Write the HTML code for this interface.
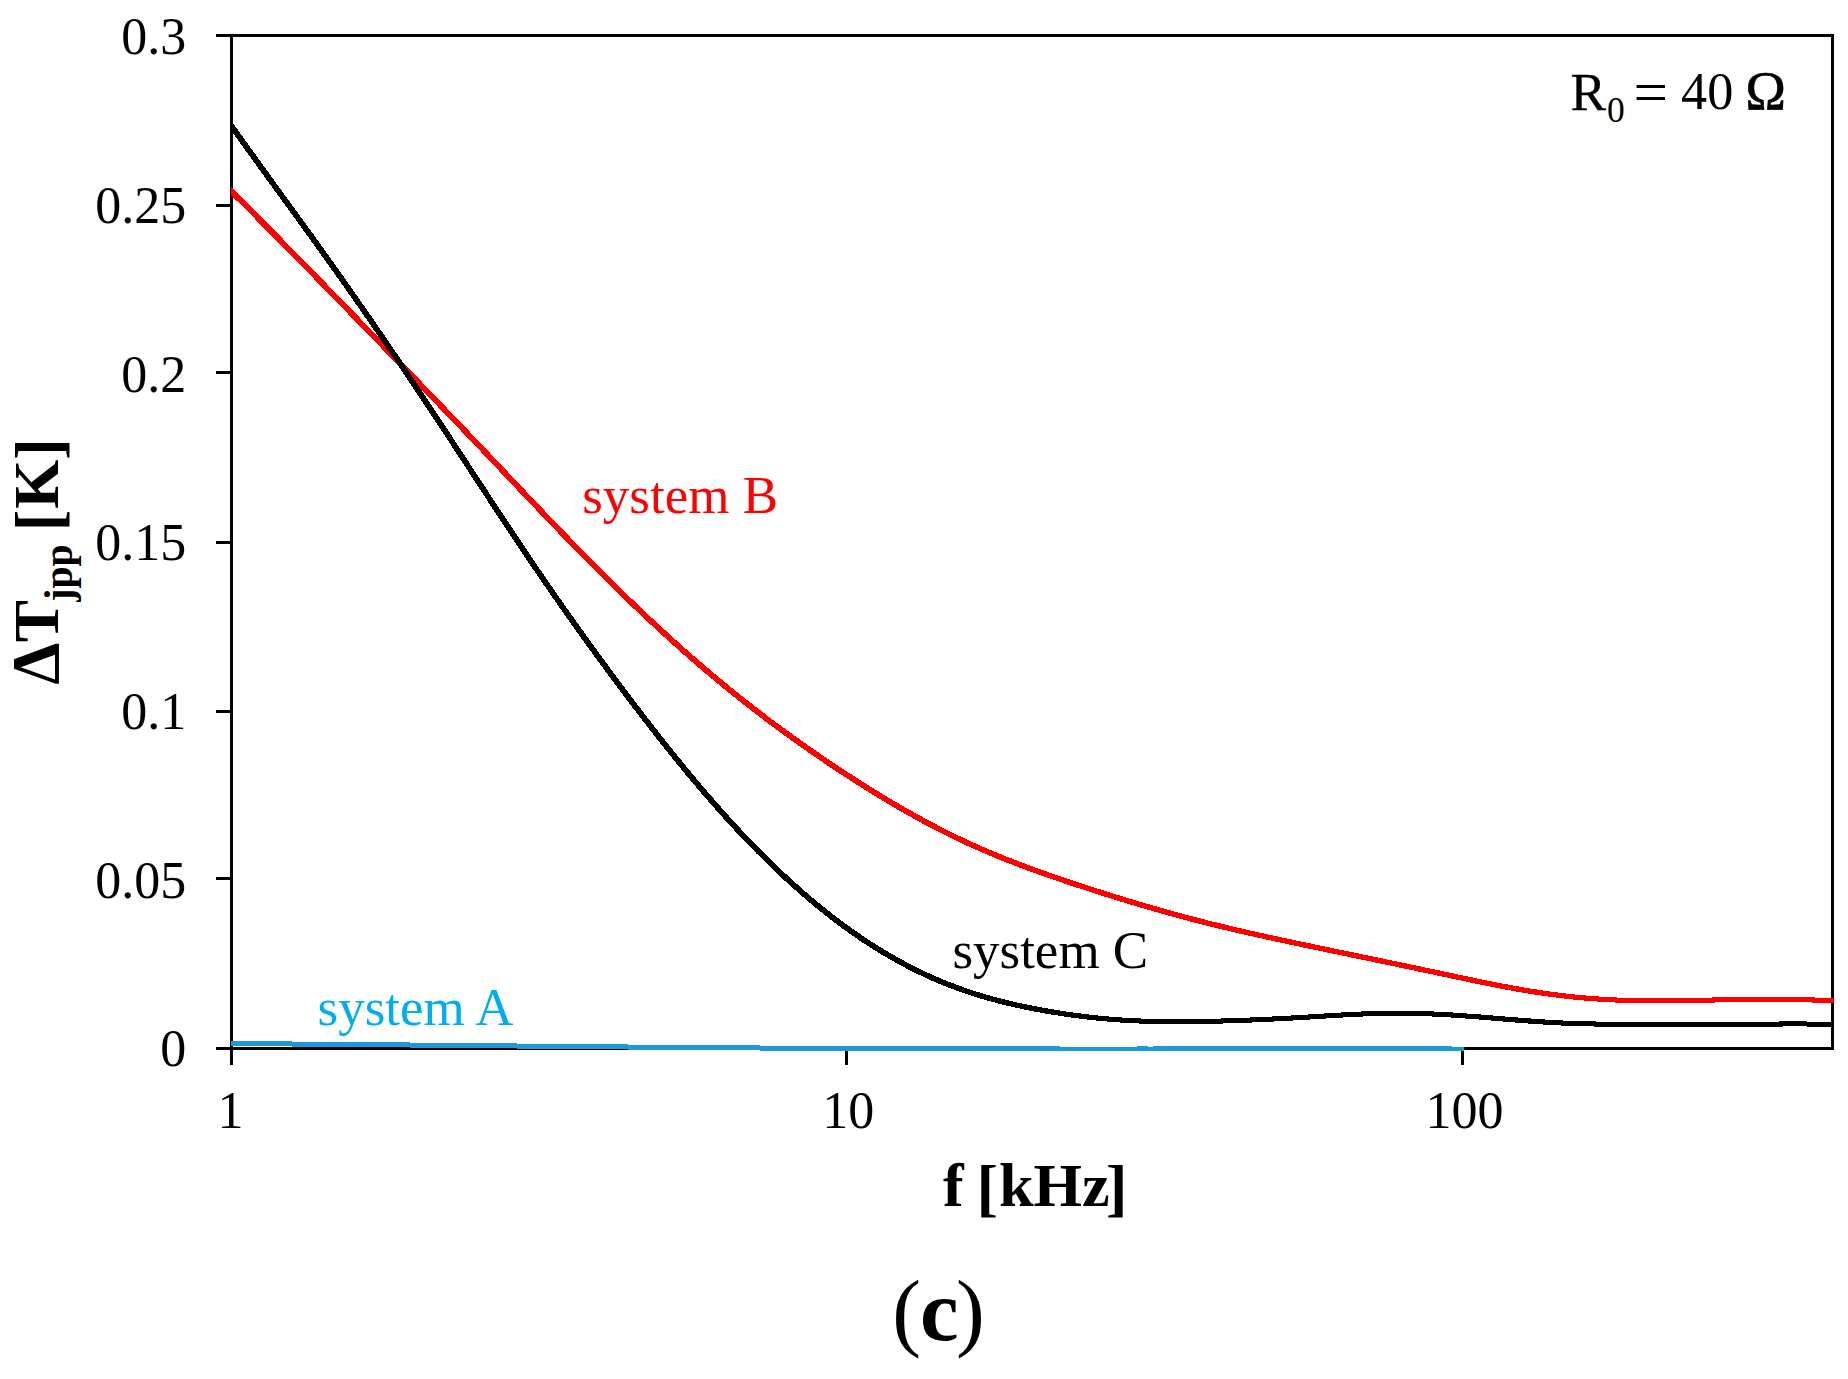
<!DOCTYPE html>
<html lang="en"><head><meta charset="utf-8"><title>Figure (c)</title>
<style>
html,body{margin:0;padding:0;background:#fff;}
body{width:1848px;height:1379px;overflow:hidden;}
svg{display:block;}
text{white-space:pre;}
</style></head><body>
<svg width="1848" height="1379" viewBox="0 0 1848 1379">
<rect x="0" y="0" width="1848" height="1379" fill="#fff"/>
<g fill="#000" shape-rendering="crispEdges">
<rect x="216" y="34" width="1618" height="3"/>
<rect x="216" y="1047" width="1618" height="3"/>
<rect x="230" y="34" width="3" height="1031"/>
<rect x="1831" y="35" width="3" height="1015"/>
<rect x="216" y="204" width="15" height="3"/>
<rect x="216" y="371" width="15" height="3"/>
<rect x="216" y="541" width="15" height="3"/>
<rect x="216" y="710" width="15" height="3"/>
<rect x="216" y="877" width="15" height="3"/>
<rect x="845" y="1047" width="3" height="18"/>
<rect x="1461" y="1047" width="3" height="18"/>
</g>
<clipPath id="plot"><rect x="231" y="30" width="1603" height="1025"/></clipPath>
<g clip-path="url(#plot)" shape-rendering="crispEdges">
<g fill="#1c9ad8"><rect x="231" y="1041" width="61" height="5"/><rect x="292" y="1042" width="118" height="5"/><rect x="410" y="1043" width="107" height="5"/><rect x="517" y="1044" width="111" height="5"/><rect x="628" y="1045" width="132" height="5"/><rect x="760" y="1046" width="300" height="5"/><rect x="1060" y="1047" width="77" height="4"/><rect x="1137" y="1046" width="11" height="5"/><rect x="1148" y="1047" width="5" height="4"/><rect x="1153" y="1046" width="299" height="5"/><rect x="1452" y="1047" width="12" height="4"/></g>
<path d="M216.95 181.18 L228.95 193.03 L232.95 196.99 L236.95 200.95 L240.94 204.93 L244.94 208.92 L248.94 212.91 L252.94 216.92 L256.93 220.93 L260.93 224.96 L264.93 228.99 L268.93 233.03 L272.93 237.08 L276.92 241.13 L280.92 245.19 L284.92 249.26 L288.92 253.34 L292.92 257.42 L296.92 261.50 L300.92 265.59 L304.91 269.69 L308.91 273.79 L312.91 277.89 L316.91 282.00 L320.91 286.10 L324.91 290.22 L328.91 294.33 L332.91 298.45 L336.91 302.57 L340.91 306.68 L344.91 310.80 L348.91 314.92 L352.91 319.04 L356.91 323.16 L360.91 327.29 L364.91 331.41 L368.91 335.53 L372.91 339.65 L376.91 343.78 L380.91 347.90 L384.91 352.03 L388.91 356.15 L392.91 360.28 L396.91 364.41 L400.91 368.55 L404.91 372.68 L408.90 376.82 L412.90 380.96 L416.90 385.10 L420.90 389.25 L424.90 393.40 L428.90 397.55 L432.90 401.70 L436.90 405.86 L440.90 410.02 L444.90 414.19 L448.90 418.36 L452.90 422.53 L456.89 426.71 L460.89 430.89 L464.89 435.08 L468.89 439.27 L472.89 443.47 L476.89 447.67 L480.89 451.88 L484.89 456.09 L488.89 460.31 L492.88 464.53 L496.88 468.75 L500.88 472.98 L504.88 477.20 L508.88 481.43 L512.88 485.65 L516.89 489.87 L520.89 494.09 L524.89 498.31 L528.89 502.52 L532.89 506.73 L536.89 510.93 L540.89 515.13 L544.89 519.32 L548.90 523.50 L552.90 527.67 L556.90 531.83 L560.90 535.98 L564.91 540.12 L568.91 544.25 L572.91 548.36 L576.92 552.46 L580.92 556.55 L584.92 560.62 L588.93 564.68 L592.93 568.71 L596.94 572.73 L600.94 576.73 L604.95 580.72 L608.95 584.68 L612.96 588.62 L616.96 592.54 L620.97 596.44 L624.98 600.32 L628.98 604.18 L632.99 608.02 L636.99 611.84 L641.00 615.64 L645.01 619.41 L649.01 623.17 L653.02 626.90 L657.02 630.60 L661.03 634.29 L665.04 637.95 L669.05 641.59 L673.05 645.20 L677.06 648.79 L681.07 652.36 L685.08 655.90 L689.08 659.41 L693.09 662.91 L697.10 666.37 L701.11 669.81 L705.12 673.23 L709.13 676.62 L713.13 679.98 L717.14 683.32 L721.15 686.63 L725.16 689.91 L729.17 693.16 L733.18 696.39 L737.19 699.60 L741.20 702.78 L745.21 705.93 L749.22 709.06 L753.23 712.16 L757.24 715.24 L761.25 718.29 L765.25 721.32 L769.26 724.33 L773.27 727.31 L777.28 730.28 L781.29 733.21 L785.30 736.13 L789.31 739.02 L793.32 741.90 L797.33 744.75 L801.34 747.58 L805.34 750.39 L809.35 753.17 L813.36 755.94 L817.37 758.69 L821.38 761.42 L825.39 764.13 L829.39 766.82 L833.40 769.49 L837.41 772.14 L841.42 774.78 L845.43 777.40 L849.44 779.99 L853.44 782.57 L857.45 785.13 L861.46 787.67 L865.47 790.19 L869.48 792.69 L873.49 795.17 L877.50 797.62 L881.51 800.06 L885.53 802.47 L889.54 804.85 L893.55 807.22 L897.56 809.56 L901.57 811.87 L905.59 814.16 L909.60 816.43 L913.61 818.67 L917.63 820.88 L921.64 823.06 L925.65 825.22 L929.67 827.35 L933.68 829.46 L937.70 831.53 L941.72 833.58 L945.73 835.59 L949.75 837.58 L953.77 839.53 L957.78 841.46 L961.80 843.35 L965.82 845.22 L969.83 847.05 L973.85 848.85 L977.87 850.63 L981.88 852.37 L985.90 854.09 L989.91 855.79 L993.93 857.45 L997.94 859.10 L1001.96 860.72 L1005.97 862.31 L1009.98 863.89 L1014.00 865.44 L1018.01 866.98 L1022.02 868.49 L1026.03 869.98 L1030.04 871.46 L1034.05 872.92 L1038.06 874.36 L1042.07 875.79 L1046.08 877.20 L1050.09 878.59 L1054.10 879.98 L1058.11 881.35 L1062.11 882.71 L1066.12 884.06 L1070.13 885.40 L1074.13 886.73 L1078.14 888.05 L1082.14 889.36 L1086.15 890.66 L1090.15 891.96 L1094.16 893.25 L1098.16 894.53 L1102.17 895.81 L1106.17 897.07 L1110.18 898.33 L1114.18 899.57 L1118.19 900.81 L1122.19 902.04 L1126.20 903.27 L1130.21 904.48 L1134.21 905.68 L1138.22 906.87 L1142.23 908.06 L1146.23 909.23 L1150.24 910.39 L1154.24 911.55 L1158.25 912.69 L1162.26 913.82 L1166.27 914.95 L1170.27 916.06 L1174.28 917.16 L1178.29 918.25 L1182.29 919.33 L1186.30 920.40 L1190.31 921.46 L1194.32 922.50 L1198.32 923.53 L1202.33 924.56 L1206.34 925.57 L1210.35 926.57 L1214.35 927.55 L1218.36 928.53 L1222.37 929.50 L1226.37 930.46 L1230.38 931.41 L1234.38 932.35 L1238.39 933.28 L1242.40 934.20 L1246.40 935.11 L1250.41 936.02 L1254.41 936.92 L1258.41 937.82 L1262.42 938.70 L1266.42 939.58 L1270.43 940.46 L1274.43 941.33 L1278.43 942.19 L1282.44 943.05 L1286.44 943.91 L1290.44 944.76 L1294.44 945.61 L1298.45 946.46 L1302.45 947.30 L1306.45 948.14 L1310.45 948.98 L1314.45 949.82 L1318.45 950.65 L1322.45 951.49 L1326.45 952.32 L1330.45 953.16 L1334.45 953.99 L1338.45 954.82 L1342.45 955.65 L1346.45 956.48 L1350.45 957.32 L1354.45 958.15 L1358.45 958.98 L1362.45 959.81 L1366.45 960.64 L1370.45 961.47 L1374.45 962.31 L1378.45 963.14 L1382.45 963.97 L1386.45 964.80 L1390.45 965.64 L1394.45 966.47 L1398.45 967.31 L1402.45 968.15 L1406.45 968.99 L1410.45 969.83 L1414.45 970.67 L1418.45 971.51 L1422.45 972.35 L1426.44 973.20 L1430.44 974.04 L1434.44 974.89 L1438.44 975.74 L1442.44 976.60 L1446.44 977.45 L1450.44 978.30 L1454.44 979.16 L1458.44 980.01 L1462.44 980.86 L1466.45 981.70 L1470.45 982.54 L1474.45 983.38 L1478.46 984.20 L1482.46 985.02 L1486.47 985.84 L1490.48 986.64 L1494.48 987.43 L1498.49 988.21 L1502.50 988.98 L1506.51 989.73 L1510.52 990.47 L1514.53 991.20 L1518.54 991.91 L1522.55 992.60 L1526.57 993.27 L1530.58 993.92 L1534.59 994.56 L1538.61 995.17 L1542.62 995.76 L1546.64 996.32 L1550.65 996.87 L1554.67 997.39 L1558.68 997.89 L1562.70 998.37 L1566.71 998.82 L1570.73 999.25 L1574.74 999.66 L1578.76 1000.05 L1582.77 1000.41 L1586.79 1000.75 L1590.80 1001.07 L1594.82 1001.37 L1598.83 1001.64 L1602.84 1001.89 L1606.86 1002.12 L1610.87 1002.32 L1614.89 1002.50 L1618.90 1002.66 L1622.92 1002.80 L1626.93 1002.91 L1630.94 1003.00 L1634.96 1003.08 L1638.97 1003.13 L1642.98 1003.17 L1646.99 1003.20 L1651.00 1003.21 L1655.00 1003.21 L1659.01 1003.20 L1663.02 1003.18 L1667.02 1003.15 L1671.03 1003.11 L1675.03 1003.07 L1679.03 1003.02 L1683.04 1002.96 L1687.04 1002.91 L1691.04 1002.85 L1695.04 1002.79 L1699.04 1002.73 L1703.04 1002.67 L1707.03 1002.61 L1711.03 1002.56 L1715.03 1002.51 L1719.03 1002.46 L1723.03 1002.42 L1727.02 1002.37 L1731.02 1002.34 L1735.02 1002.30 L1739.02 1002.27 L1743.02 1002.24 L1747.01 1002.22 L1751.01 1002.20 L1755.01 1002.18 L1759.00 1002.17 L1763.00 1002.17 L1767.00 1002.17 L1771.00 1002.17 L1774.99 1002.18 L1778.99 1002.20 L1782.99 1002.22 L1786.98 1002.24 L1790.98 1002.28 L1794.98 1002.31 L1798.97 1002.35 L1802.97 1002.39 L1806.97 1002.44 L1810.97 1002.49 L1814.97 1002.54 L1818.97 1002.60 L1822.96 1002.65 L1826.96 1002.71 L1830.96 1002.77 L1833.96 1002.82 L1845.96 1003.01 L1846.04 997.98 L1834.04 997.79 L1831.04 997.74 L1827.04 997.68 L1823.04 997.62 L1819.03 997.57 L1815.03 997.51 L1811.03 997.46 L1807.03 997.42 L1803.03 997.37 L1799.03 997.33 L1795.02 997.29 L1791.02 997.26 L1787.02 997.23 L1783.01 997.21 L1779.01 997.19 L1775.01 997.18 L1771.00 997.17 L1767.00 997.17 L1763.00 997.17 L1759.00 997.17 L1754.99 997.18 L1750.99 997.19 L1746.99 997.21 L1742.98 997.23 L1738.98 997.26 L1734.98 997.28 L1730.98 997.32 L1726.98 997.35 L1722.97 997.39 L1718.97 997.44 L1714.97 997.48 L1710.97 997.53 L1706.97 997.59 L1702.96 997.64 L1698.96 997.70 L1694.96 997.76 L1690.96 997.82 L1686.96 997.88 L1682.96 997.94 L1678.97 997.99 L1674.97 998.05 L1670.97 998.09 L1666.98 998.13 L1662.98 998.17 L1658.99 998.19 L1655.00 998.21 L1651.00 998.20 L1647.01 998.19 L1643.02 998.16 L1639.03 998.11 L1635.04 998.04 L1631.06 997.96 L1627.07 997.86 L1623.08 997.73 L1619.10 997.59 L1615.11 997.42 L1611.13 997.23 L1607.14 997.02 L1603.16 996.78 L1599.17 996.52 L1595.18 996.24 L1591.20 995.94 L1587.21 995.61 L1583.23 995.26 L1579.24 994.89 L1575.26 994.50 L1571.27 994.08 L1567.29 993.64 L1563.30 993.18 L1559.32 992.70 L1555.33 992.19 L1551.35 991.67 L1547.36 991.12 L1543.38 990.54 L1539.39 989.95 L1535.41 989.33 L1531.42 988.70 L1527.43 988.04 L1523.45 987.36 L1519.46 986.67 L1515.47 985.96 L1511.48 985.23 L1507.49 984.49 L1503.50 983.73 L1499.51 982.96 L1495.52 982.18 L1491.52 981.39 L1487.53 980.59 L1483.54 979.77 L1479.54 978.95 L1475.55 978.12 L1471.55 977.29 L1467.55 976.45 L1463.56 975.60 L1459.56 974.75 L1455.56 973.90 L1451.56 973.05 L1447.56 972.19 L1443.56 971.34 L1439.56 970.49 L1435.56 969.64 L1431.56 968.79 L1427.56 967.94 L1423.55 967.10 L1419.55 966.25 L1415.55 965.41 L1411.55 964.57 L1407.55 963.73 L1403.55 962.89 L1399.55 962.06 L1395.55 961.22 L1391.55 960.39 L1387.55 959.55 L1383.55 958.72 L1379.55 957.89 L1375.55 957.05 L1371.55 956.22 L1367.55 955.39 L1363.55 954.56 L1359.55 953.73 L1355.55 952.89 L1351.55 952.06 L1347.55 951.23 L1343.55 950.40 L1339.55 949.57 L1335.55 948.74 L1331.55 947.90 L1327.55 947.07 L1323.55 946.24 L1319.55 945.40 L1315.55 944.56 L1311.55 943.73 L1307.55 942.89 L1303.55 942.05 L1299.55 941.20 L1295.56 940.36 L1291.56 939.51 L1287.56 938.66 L1283.56 937.80 L1279.57 936.94 L1275.57 936.07 L1271.57 935.20 L1267.58 934.33 L1263.58 933.44 L1259.59 932.56 L1255.59 931.66 L1251.59 930.76 L1247.60 929.85 L1243.60 928.94 L1239.61 928.02 L1235.62 927.08 L1231.62 926.14 L1227.63 925.20 L1223.63 924.24 L1219.64 923.27 L1215.65 922.29 L1211.65 921.30 L1207.66 920.30 L1203.67 919.29 L1199.68 918.27 L1195.68 917.24 L1191.69 916.19 L1187.70 915.13 L1183.71 914.07 L1179.71 912.99 L1175.72 911.90 L1171.73 910.80 L1167.73 909.68 L1163.74 908.56 L1159.75 907.43 L1155.76 906.29 L1151.76 905.13 L1147.77 903.97 L1143.77 902.80 L1139.78 901.61 L1135.79 900.42 L1131.79 899.22 L1127.80 898.01 L1123.81 896.79 L1119.81 895.56 L1115.82 894.32 L1111.82 893.07 L1107.83 891.82 L1103.83 890.55 L1099.84 889.28 L1095.84 888.00 L1091.85 886.71 L1087.85 885.41 L1083.86 884.11 L1079.86 882.80 L1075.87 881.48 L1071.87 880.15 L1067.88 878.81 L1063.89 877.47 L1059.89 876.11 L1055.90 874.74 L1051.91 873.36 L1047.92 871.96 L1043.93 870.55 L1039.94 869.13 L1035.95 867.69 L1031.96 866.23 L1027.97 864.76 L1023.98 863.27 L1019.99 861.76 L1016.00 860.23 L1012.02 858.68 L1008.03 857.11 L1004.04 855.52 L1000.06 853.91 L996.07 852.27 L992.09 850.61 L988.10 848.92 L984.12 847.21 L980.13 845.47 L976.15 843.70 L972.17 841.91 L968.18 840.08 L964.20 838.23 L960.22 836.34 L956.23 834.43 L952.25 832.48 L948.27 830.51 L944.28 828.50 L940.30 826.47 L936.32 824.40 L932.33 822.31 L928.35 820.19 L924.36 818.04 L920.37 815.87 L916.39 813.67 L912.40 811.44 L908.41 809.18 L904.43 806.90 L900.44 804.60 L896.45 802.27 L892.46 799.92 L888.47 797.54 L884.49 795.14 L880.50 792.72 L876.51 790.27 L872.52 787.80 L868.53 785.31 L864.54 782.80 L860.55 780.27 L856.56 777.72 L852.56 775.15 L848.57 772.56 L844.58 769.95 L840.59 767.33 L836.60 764.68 L832.61 762.02 L828.61 759.34 L824.62 756.64 L820.63 753.92 L816.64 751.18 L812.65 748.42 L808.66 745.64 L804.66 742.84 L800.67 740.03 L796.68 737.18 L792.69 734.32 L788.70 731.44 L784.71 728.53 L780.72 725.61 L776.73 722.66 L772.74 719.69 L768.75 716.69 L764.75 713.67 L760.76 710.63 L756.77 707.56 L752.78 704.47 L748.79 701.36 L744.80 698.22 L740.81 695.05 L736.82 691.86 L732.83 688.65 L728.84 685.40 L724.85 682.13 L720.86 678.84 L716.87 675.52 L712.87 672.17 L708.88 668.79 L704.89 665.39 L700.90 661.96 L696.91 658.51 L692.92 655.03 L688.92 651.53 L684.93 648.00 L680.94 644.45 L676.95 640.87 L672.95 637.27 L668.96 633.64 L664.97 629.99 L660.98 626.32 L656.98 622.63 L652.99 618.91 L648.99 615.17 L645.00 611.40 L641.01 607.62 L637.01 603.81 L633.02 599.98 L629.02 596.13 L625.03 592.26 L621.04 588.37 L617.04 584.46 L613.05 580.53 L609.05 576.58 L605.06 572.61 L601.06 568.61 L597.07 564.60 L593.07 560.58 L589.08 556.53 L585.08 552.47 L581.08 548.39 L577.09 544.30 L573.09 540.19 L569.09 536.07 L565.10 531.93 L561.10 527.79 L557.10 523.63 L553.10 519.46 L549.11 515.29 L545.11 511.10 L541.11 506.91 L537.11 502.71 L533.11 498.51 L529.11 494.30 L525.11 490.08 L521.11 485.86 L517.12 481.64 L513.12 477.42 L509.12 473.19 L505.12 468.97 L501.12 464.74 L497.12 460.52 L493.11 456.30 L489.11 452.08 L485.11 447.87 L481.11 443.66 L477.11 439.45 L473.11 435.25 L469.11 431.06 L465.11 426.87 L461.11 422.68 L457.10 418.50 L453.10 414.33 L449.10 410.16 L445.10 405.99 L441.10 401.82 L437.10 397.66 L433.10 393.51 L429.10 389.35 L425.10 385.20 L421.10 381.06 L417.10 376.91 L413.10 372.77 L409.09 368.63 L405.09 364.50 L401.09 360.36 L397.09 356.23 L393.09 352.10 L389.09 347.97 L385.09 343.84 L381.09 339.72 L377.09 335.59 L373.09 331.47 L369.09 327.35 L365.09 323.23 L361.09 319.11 L357.09 314.98 L353.09 310.86 L349.09 306.74 L345.09 302.62 L341.09 298.51 L337.09 294.39 L333.09 290.27 L329.09 286.15 L325.09 282.04 L321.09 277.93 L317.09 273.82 L313.09 269.72 L309.09 265.62 L305.08 261.52 L301.08 257.43 L297.08 253.34 L293.08 249.26 L289.08 245.18 L285.08 241.11 L281.08 237.04 L277.07 232.98 L273.07 228.93 L269.07 224.89 L265.07 220.85 L261.07 216.82 L257.06 212.80 L253.06 208.79 L249.06 204.79 L245.06 200.80 L241.05 196.82 L237.05 192.85 L233.05 188.89 L221.05 177.03Z" fill="#ff0000"/>
<path d="M216.64 110.06 L228.64 126.95 L232.64 132.57 L236.65 138.18 L240.65 143.77 L244.65 149.34 L248.65 154.90 L252.65 160.45 L256.65 165.98 L260.65 171.51 L264.66 177.03 L268.66 182.54 L272.66 188.05 L276.66 193.56 L280.66 199.06 L284.66 204.56 L288.66 210.07 L292.66 215.57 L296.66 221.08 L300.65 226.60 L304.65 232.13 L308.65 237.66 L312.65 243.20 L316.65 248.76 L320.65 254.33 L324.64 259.91 L328.64 265.52 L332.64 271.13 L336.64 276.77 L340.64 282.42 L344.63 288.10 L348.63 293.79 L352.63 299.49 L356.63 305.22 L360.63 310.96 L364.62 316.72 L368.62 322.49 L372.62 328.29 L376.62 334.10 L380.62 339.93 L384.61 345.77 L388.61 351.64 L392.61 357.52 L396.61 363.41 L400.61 369.33 L404.60 375.26 L408.60 381.20 L412.60 387.17 L416.60 393.15 L420.60 399.15 L424.60 405.16 L428.59 411.19 L432.59 417.24 L436.59 423.30 L440.59 429.37 L444.59 435.45 L448.59 441.55 L452.59 447.65 L456.59 453.76 L460.59 459.87 L464.59 465.99 L468.59 472.10 L472.59 478.22 L476.59 484.33 L480.59 490.44 L484.59 496.54 L488.59 502.63 L492.59 508.72 L496.59 514.79 L500.59 520.85 L504.59 526.90 L508.60 532.93 L512.60 538.94 L516.60 544.94 L520.60 550.91 L524.61 556.86 L528.61 562.78 L532.61 568.68 L536.61 574.55 L540.62 580.39 L544.62 586.21 L548.62 592.00 L552.63 597.77 L556.63 603.51 L560.63 609.23 L564.64 614.92 L568.64 620.58 L572.64 626.22 L576.64 631.83 L580.65 637.42 L584.65 642.98 L588.65 648.52 L592.66 654.03 L596.66 659.52 L600.66 664.98 L604.67 670.42 L608.67 675.83 L612.67 681.22 L616.68 686.58 L620.68 691.92 L624.69 697.23 L628.69 702.52 L632.69 707.79 L636.70 713.03 L640.70 718.25 L644.70 723.43 L648.71 728.59 L652.71 733.72 L656.72 738.82 L660.72 743.89 L664.73 748.93 L668.73 753.94 L672.74 758.91 L676.75 763.84 L680.75 768.75 L684.76 773.61 L688.77 778.44 L692.77 783.23 L696.78 787.98 L700.79 792.68 L704.80 797.35 L708.80 801.98 L712.81 806.56 L716.82 811.10 L720.83 815.59 L724.84 820.04 L728.85 824.44 L732.86 828.79 L736.87 833.10 L740.88 837.36 L744.90 841.58 L748.91 845.74 L752.92 849.86 L756.93 853.93 L760.94 857.95 L764.96 861.92 L768.97 865.84 L772.98 869.71 L777.00 873.54 L781.01 877.31 L785.03 881.03 L789.04 884.70 L793.06 888.32 L797.07 891.88 L801.09 895.40 L805.11 898.86 L809.13 902.27 L813.14 905.62 L817.16 908.93 L821.18 912.18 L825.20 915.38 L829.22 918.52 L833.24 921.62 L837.26 924.65 L841.28 927.64 L845.30 930.57 L849.32 933.45 L853.35 936.28 L857.37 939.05 L861.39 941.77 L865.42 944.43 L869.44 947.04 L873.47 949.60 L877.49 952.10 L881.52 954.54 L885.54 956.94 L889.57 959.28 L893.60 961.56 L897.62 963.80 L901.65 965.98 L905.68 968.10 L909.71 970.18 L913.74 972.20 L917.76 974.18 L921.79 976.10 L925.82 977.97 L929.85 979.79 L933.88 981.56 L937.91 983.28 L941.94 984.95 L945.97 986.57 L949.99 988.14 L954.02 989.67 L958.05 991.14 L962.08 992.57 L966.11 993.95 L970.14 995.29 L974.17 996.58 L978.19 997.83 L982.22 999.04 L986.25 1000.21 L990.27 1001.33 L994.30 1002.42 L998.32 1003.48 L1002.34 1004.49 L1006.36 1005.48 L1010.39 1006.43 L1014.41 1007.35 L1018.43 1008.23 L1022.44 1009.09 L1026.46 1009.92 L1030.48 1010.73 L1034.50 1011.51 L1038.51 1012.26 L1042.53 1012.99 L1046.54 1013.70 L1050.56 1014.38 L1054.57 1015.04 L1058.59 1015.68 L1062.60 1016.30 L1066.62 1016.89 L1070.64 1017.46 L1074.65 1018.00 L1078.67 1018.52 L1082.68 1019.02 L1086.70 1019.50 L1090.71 1019.95 L1094.73 1020.37 L1098.75 1020.78 L1102.76 1021.15 L1106.78 1021.51 L1110.79 1021.84 L1114.81 1022.15 L1118.82 1022.43 L1122.84 1022.69 L1126.86 1022.92 L1130.87 1023.13 L1134.88 1023.32 L1138.90 1023.49 L1142.91 1023.64 L1146.92 1023.76 L1150.93 1023.87 L1154.95 1023.96 L1158.96 1024.04 L1162.97 1024.09 L1166.98 1024.13 L1170.99 1024.16 L1174.99 1024.17 L1179.00 1024.17 L1183.01 1024.16 L1187.02 1024.14 L1191.03 1024.11 L1195.03 1024.07 L1199.04 1024.01 L1203.04 1023.95 L1207.05 1023.88 L1211.05 1023.80 L1215.06 1023.71 L1219.06 1023.61 L1223.07 1023.51 L1227.08 1023.40 L1231.08 1023.27 L1235.08 1023.15 L1239.09 1023.01 L1243.09 1022.87 L1247.10 1022.71 L1251.10 1022.56 L1255.11 1022.39 L1259.11 1022.22 L1263.12 1022.04 L1267.12 1021.86 L1271.12 1021.66 L1275.13 1021.47 L1279.13 1021.26 L1283.14 1021.05 L1287.14 1020.84 L1291.14 1020.62 L1295.15 1020.39 L1299.15 1020.16 L1303.15 1019.92 L1307.16 1019.68 L1311.16 1019.43 L1315.16 1019.19 L1319.16 1018.94 L1323.16 1018.69 L1327.16 1018.45 L1331.15 1018.20 L1335.15 1017.96 L1339.15 1017.73 L1343.14 1017.50 L1347.14 1017.28 L1351.13 1017.07 L1355.12 1016.87 L1359.12 1016.68 L1363.11 1016.50 L1367.10 1016.34 L1371.09 1016.19 L1375.08 1016.05 L1379.07 1015.94 L1383.05 1015.84 L1387.04 1015.76 L1391.03 1015.70 L1395.01 1015.66 L1399.00 1015.65 L1402.98 1015.67 L1406.97 1015.72 L1410.95 1015.79 L1414.94 1015.88 L1418.93 1015.99 L1422.91 1016.12 L1426.90 1016.27 L1430.89 1016.44 L1434.88 1016.63 L1438.87 1016.83 L1442.86 1017.05 L1446.85 1017.28 L1450.84 1017.52 L1454.83 1017.78 L1458.83 1018.05 L1462.82 1018.33 L1466.81 1018.62 L1470.81 1018.92 L1474.80 1019.22 L1478.80 1019.53 L1482.80 1019.85 L1486.79 1020.17 L1490.79 1020.50 L1494.79 1020.83 L1498.79 1021.15 L1502.79 1021.48 L1506.79 1021.81 L1510.79 1022.14 L1514.79 1022.46 L1518.80 1022.77 L1522.80 1023.08 L1526.81 1023.39 L1530.81 1023.68 L1534.82 1023.97 L1538.83 1024.24 L1542.84 1024.50 L1546.84 1024.75 L1550.85 1024.99 L1554.86 1025.20 L1558.87 1025.41 L1562.89 1025.59 L1566.90 1025.76 L1570.91 1025.91 L1574.92 1026.05 L1578.93 1026.17 L1582.93 1026.27 L1586.94 1026.37 L1590.95 1026.45 L1594.96 1026.52 L1598.96 1026.58 L1602.97 1026.63 L1606.98 1026.67 L1610.98 1026.71 L1614.98 1026.73 L1618.99 1026.75 L1622.99 1026.77 L1626.99 1026.78 L1631.00 1026.78 L1635.00 1026.78 L1639.00 1026.78 L1643.00 1026.78 L1647.00 1026.78 L1651.00 1026.78 L1655.00 1026.78 L1659.00 1026.78 L1663.00 1026.78 L1667.00 1026.78 L1671.00 1026.78 L1675.00 1026.78 L1679.00 1026.78 L1683.00 1026.78 L1687.00 1026.78 L1691.00 1026.78 L1695.00 1026.78 L1699.00 1026.78 L1703.00 1026.78 L1707.00 1026.78 L1711.00 1026.78 L1715.00 1026.77 L1719.00 1026.77 L1723.00 1026.76 L1727.01 1026.75 L1731.01 1026.74 L1735.01 1026.73 L1739.01 1026.72 L1743.01 1026.70 L1747.01 1026.69 L1751.01 1026.67 L1755.01 1026.65 L1759.01 1026.62 L1763.01 1026.60 L1767.01 1026.58 L1771.01 1026.56 L1775.01 1026.53 L1779.01 1026.51 L1783.01 1026.50 L1787.01 1026.49 L1791.00 1026.48 L1795.00 1026.47 L1799.00 1026.48 L1802.99 1026.49 L1806.99 1026.51 L1810.98 1026.53 L1814.98 1026.57 L1818.97 1026.61 L1822.96 1026.67 L1826.96 1026.73 L1830.95 1026.81 L1833.94 1026.88 L1845.94 1027.15 L1846.06 1022.10 L1834.06 1021.84 L1831.05 1021.77 L1827.04 1021.70 L1823.04 1021.64 L1819.03 1021.59 L1815.02 1021.55 L1811.02 1021.52 L1807.01 1021.50 L1803.01 1021.48 L1799.00 1021.47 L1795.00 1021.47 L1791.00 1021.47 L1786.99 1021.48 L1782.99 1021.49 L1778.99 1021.51 L1774.99 1021.52 L1770.99 1021.54 L1766.99 1021.57 L1762.99 1021.59 L1758.99 1021.61 L1754.99 1021.64 L1750.99 1021.66 L1746.99 1021.68 L1742.99 1021.70 L1738.99 1021.71 L1734.99 1021.72 L1730.99 1021.74 L1726.99 1021.75 L1723.00 1021.76 L1719.00 1021.76 L1715.00 1021.77 L1711.00 1021.77 L1707.00 1021.78 L1703.00 1021.78 L1699.00 1021.78 L1695.00 1021.78 L1691.00 1021.78 L1687.00 1021.78 L1683.00 1021.78 L1679.00 1021.78 L1675.00 1021.78 L1671.00 1021.78 L1667.00 1021.78 L1663.00 1021.78 L1659.00 1021.78 L1655.00 1021.78 L1651.00 1021.78 L1647.00 1021.78 L1643.00 1021.78 L1639.00 1021.78 L1635.00 1021.78 L1631.00 1021.78 L1627.01 1021.77 L1623.01 1021.76 L1619.01 1021.74 L1615.02 1021.72 L1611.02 1021.69 L1607.02 1021.65 L1603.03 1021.61 L1599.04 1021.55 L1595.04 1021.49 L1591.05 1021.41 L1587.06 1021.32 L1583.07 1021.22 L1579.07 1021.11 L1575.08 1020.98 L1571.09 1020.84 L1567.10 1020.68 L1563.11 1020.51 L1559.13 1020.32 L1555.14 1020.11 L1551.15 1019.88 L1547.16 1019.64 L1543.16 1019.39 L1539.17 1019.12 L1535.18 1018.84 L1531.19 1018.55 L1527.19 1018.26 L1523.20 1017.95 L1519.20 1017.64 L1515.21 1017.32 L1511.21 1017.00 L1507.21 1016.67 L1503.21 1016.34 L1499.21 1016.01 L1495.21 1015.69 L1491.21 1015.36 L1487.21 1015.03 L1483.20 1014.71 L1479.20 1014.40 L1475.20 1014.09 L1471.19 1013.79 L1467.19 1013.49 L1463.18 1013.21 L1459.17 1012.93 L1455.17 1012.67 L1451.16 1012.41 L1447.15 1012.17 L1443.14 1011.95 L1439.13 1011.74 L1435.12 1011.54 L1431.11 1011.36 L1427.10 1011.20 L1423.09 1011.06 L1419.07 1010.93 L1415.06 1010.83 L1411.05 1010.75 L1407.03 1010.69 L1403.02 1010.66 L1399.00 1010.65 L1394.99 1010.65 L1390.97 1010.68 L1386.96 1010.73 L1382.95 1010.80 L1378.93 1010.89 L1374.92 1011.00 L1370.91 1011.12 L1366.90 1011.27 L1362.89 1011.42 L1358.88 1011.60 L1354.88 1011.78 L1350.87 1011.98 L1346.86 1012.19 L1342.86 1012.40 L1338.85 1012.63 L1334.85 1012.86 L1330.85 1013.10 L1326.84 1013.34 L1322.84 1013.58 L1318.84 1013.83 L1314.84 1014.08 L1310.84 1014.32 L1306.84 1014.57 L1302.85 1014.81 L1298.85 1015.05 L1294.85 1015.29 L1290.86 1015.51 L1286.86 1015.74 L1282.86 1015.96 L1278.87 1016.17 L1274.87 1016.37 L1270.88 1016.57 L1266.88 1016.77 L1262.88 1016.96 L1258.89 1017.14 L1254.89 1017.31 L1250.90 1017.48 L1246.90 1017.64 L1242.91 1017.80 L1238.91 1017.94 L1234.92 1018.08 L1230.92 1018.21 L1226.92 1018.34 L1222.93 1018.46 L1218.94 1018.56 L1214.94 1018.67 L1210.95 1018.76 L1206.95 1018.84 L1202.96 1018.92 L1198.96 1018.98 L1194.97 1019.04 L1190.97 1019.09 L1186.98 1019.13 L1182.99 1019.15 L1179.00 1019.17 L1175.01 1019.17 L1171.01 1019.15 L1167.02 1019.12 L1163.03 1019.07 L1159.04 1019.00 L1155.05 1018.92 L1151.07 1018.82 L1147.08 1018.71 L1143.09 1018.57 L1139.10 1018.41 L1135.12 1018.24 L1131.13 1018.04 L1127.14 1017.82 L1123.16 1017.57 L1119.18 1017.31 L1115.19 1017.02 L1111.21 1016.70 L1107.22 1016.36 L1103.24 1016.00 L1099.25 1015.61 L1095.27 1015.20 L1091.29 1014.77 L1087.30 1014.31 L1083.32 1013.83 L1079.33 1013.33 L1075.35 1012.80 L1071.36 1012.25 L1067.38 1011.68 L1063.40 1011.08 L1059.41 1010.46 L1055.43 1009.82 L1051.44 1009.15 L1047.46 1008.46 L1043.47 1007.75 L1039.49 1007.02 L1035.50 1006.26 L1031.52 1005.48 L1027.54 1004.67 L1023.56 1003.84 L1019.57 1002.98 L1015.59 1002.09 L1011.61 1001.17 L1007.64 1000.22 L1003.66 999.23 L999.68 998.21 L995.70 997.16 L991.73 996.07 L987.75 994.95 L983.78 993.78 L979.81 992.58 L975.83 991.33 L971.86 990.04 L967.89 988.71 L963.92 987.34 L959.95 985.91 L955.98 984.45 L952.01 982.93 L948.03 981.37 L944.06 979.76 L940.09 978.10 L936.12 976.39 L932.15 974.64 L928.18 972.83 L924.21 970.98 L920.24 969.07 L916.26 967.12 L912.29 965.11 L908.32 963.05 L904.35 960.95 L900.38 958.79 L896.40 956.57 L892.43 954.31 L888.46 951.99 L884.48 949.62 L880.51 947.20 L876.53 944.72 L872.56 942.19 L868.58 939.61 L864.61 936.97 L860.63 934.28 L856.65 931.53 L852.68 928.73 L848.70 925.88 L844.72 922.97 L840.74 920.01 L836.76 917.00 L832.78 913.94 L828.80 910.82 L824.82 907.65 L820.84 904.42 L816.86 901.15 L812.87 897.82 L808.89 894.44 L804.91 891.00 L800.93 887.52 L796.94 883.98 L792.96 880.39 L788.97 876.74 L784.99 873.05 L781.00 869.30 L777.02 865.51 L773.03 861.66 L769.04 857.77 L765.06 853.82 L761.07 849.82 L757.08 845.78 L753.09 841.69 L749.10 837.55 L745.12 833.36 L741.13 829.12 L737.14 824.83 L733.15 820.50 L729.16 816.13 L725.17 811.70 L721.18 807.23 L717.19 802.71 L713.20 798.15 L709.20 793.55 L705.21 788.90 L701.22 784.21 L697.23 779.48 L693.23 774.71 L689.24 769.90 L685.25 765.06 L681.25 760.17 L677.26 755.25 L673.27 750.30 L669.27 745.31 L665.28 740.28 L661.28 735.23 L657.29 730.14 L653.29 725.03 L649.30 719.88 L645.30 714.70 L641.30 709.50 L637.31 704.27 L633.31 699.02 L629.31 693.74 L625.32 688.43 L621.32 683.11 L617.33 677.75 L613.33 672.38 L609.33 666.97 L605.34 661.55 L601.34 656.10 L597.34 650.62 L593.35 645.12 L589.35 639.59 L585.35 634.04 L581.36 628.46 L577.36 622.86 L573.36 617.23 L569.36 611.58 L565.37 605.90 L561.37 600.20 L557.37 594.47 L553.38 588.71 L549.38 582.93 L545.38 577.12 L541.39 571.29 L537.39 565.43 L533.39 559.54 L529.39 553.63 L525.40 547.69 L521.40 541.72 L517.40 535.74 L513.40 529.73 L509.41 523.71 L505.41 517.67 L501.41 511.61 L497.41 505.55 L493.41 499.46 L489.41 493.37 L485.41 487.27 L481.41 481.17 L477.41 475.06 L473.41 468.94 L469.41 462.83 L465.41 456.71 L461.41 450.60 L457.41 444.49 L453.41 438.38 L449.41 432.29 L445.41 426.20 L441.41 420.12 L437.41 414.05 L433.41 408.00 L429.40 401.97 L425.40 395.95 L421.40 389.94 L417.40 383.96 L413.40 377.99 L409.40 372.03 L405.39 366.09 L401.39 360.17 L397.39 354.27 L393.39 348.38 L389.39 342.52 L385.38 336.66 L381.38 330.83 L377.38 325.01 L373.38 319.21 L369.38 313.42 L365.37 307.66 L361.37 301.91 L357.37 296.18 L353.37 290.46 L349.37 284.77 L345.36 279.09 L341.36 273.42 L337.36 267.78 L333.36 262.16 L329.36 256.55 L325.35 250.96 L321.35 245.38 L317.35 239.82 L313.35 234.27 L309.35 228.73 L305.35 223.20 L301.34 217.68 L297.34 212.17 L293.34 206.66 L289.34 201.16 L285.34 195.65 L281.34 190.15 L277.34 184.65 L273.34 179.14 L269.34 173.63 L265.35 168.11 L261.35 162.59 L257.35 157.06 L253.35 151.51 L249.35 145.96 L245.35 140.39 L241.35 134.81 L237.36 129.21 L233.36 123.60 L221.36 106.71Z" fill="#000"/>
</g>
<g font-family="'Liberation Serif', 'Times New Roman', serif" font-size="52" fill="#000">
<text x="186.2" y="54.2" text-anchor="end">0.3</text>
<text x="186.2" y="222.9" text-anchor="end">0.25</text>
<text x="186.2" y="391.6" text-anchor="end">0.2</text>
<text x="186.2" y="560.3" text-anchor="end">0.15</text>
<text x="186.2" y="729.0" text-anchor="end">0.1</text>
<text x="186.2" y="897.7" text-anchor="end">0.05</text>
<text x="186.2" y="1066.4" text-anchor="end">0</text>
<text x="230.6" y="1128" text-anchor="middle">1</text>
<text x="848.2" y="1128" text-anchor="middle">10</text>
<text x="1464.5" y="1128" text-anchor="middle">100</text>
<text x="582.2" y="513.1" font-size="53" fill="#ff0000">system B</text>
<text x="952.4" y="967.5" font-size="53">system C</text>
<text x="317.6" y="1025.2" font-size="53" fill="#00aeef">system A</text>
<text font-weight="normal"><tspan x="1570.38" y="110.00" font-size="53.39" stroke="#000" stroke-width="0.3">R</tspan><tspan x="1607.08" y="122.18" font-size="35.47">0</tspan> <tspan x="1633.48" y="112.58" font-size="61.21">=</tspan> <tspan x="1681.12" y="109.44" font-size="52.27">40</tspan> <tspan x="1745.48" y="109.20" font-size="54.36" stroke="#000" stroke-width="0.7">Ω</tspan></text>
</g>
<g font-family="'Liberation Serif', 'Times New Roman', serif" font-weight="bold" font-size="62" fill="#000">
<text font-weight="bold"><tspan x="943.08" y="1205.64" font-size="62.00">f</tspan> <tspan x="976.50" y="1208.74" font-size="64.41">[</tspan><tspan x="998.90" y="1205.80" font-size="62.30">kHz</tspan><tspan x="1105.90" y="1208.74" font-size="64.41">]</tspan></text>
<text transform="rotate(-90)" font-weight="bold"><tspan x="-684.70" y="58.02" font-size="67.12">Δ</tspan><tspan x="-642.34" y="58.00" font-size="63.27">T</tspan><tspan x="-601.78" y="72.32" font-size="39.65">jpp</tspan> <tspan x="-531.17" y="61.20" font-size="65.13">[</tspan><tspan x="-508.66" y="58.00" font-size="63.06">K</tspan><tspan x="-459.77" y="61.20" font-size="65.13">]</tspan></text>
</g>
<g font-family="'Liberation Serif', 'Times New Roman', serif" fill="#000">
<text font-weight="normal"><tspan x="892.28" y="1340.06" font-size="86.26">(</tspan><tspan x="920.12" y="1340.46" font-size="86.98" font-weight="bold">c</tspan><tspan x="956.08" y="1340.06" font-size="86.26">)</tspan></text>
</g>
</svg>
</body></html>
